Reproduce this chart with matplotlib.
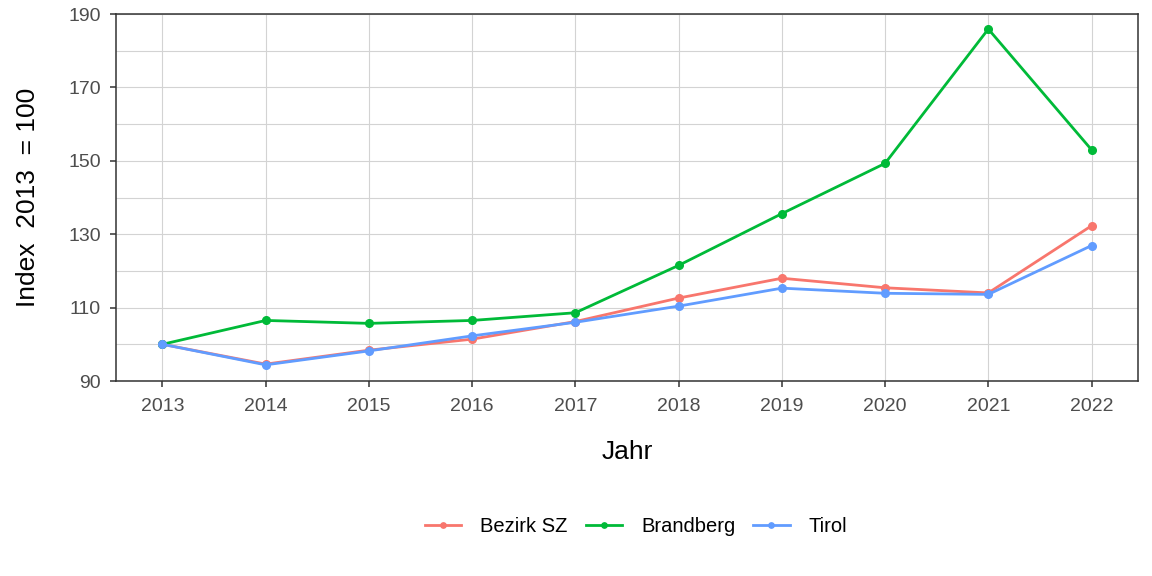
import matplotlib
import matplotlib.pyplot as plt
from matplotlib.ticker import FixedLocator

matplotlib.use('Agg')
plt.rcParams['font.family'] = ['Liberation Sans', 'DejaVu Sans']

years = [2013, 2014, 2015, 2016, 2017, 2018, 2019, 2020, 2021, 2022]
bezirk_sz = [100, 94.6, 98.4, 101.4, 106.2, 112.6, 118.0, 115.4, 114.0, 132.3]
brandberg = [100, 106.5, 105.7, 106.5, 108.6, 121.5, 135.6, 149.3, 185.9, 153.0]
tirol = [100, 94.4, 98.2, 102.3, 106.0, 110.4, 115.3, 113.9, 113.6, 126.9]
y_major = [90, 110, 130, 150, 170, 190]
y_minor = [100, 120, 140, 160, 180]

series = [('Bezirk SZ', bezirk_sz, '#F8766D'),
          ('Brandberg', brandberg, '#00BA38'),
          ('Tirol', tirol, '#619CFF')]

fig = plt.figure(figsize=(11.52, 5.76), dpi=100)
ax = fig.add_axes([116 / 1152, 1 - 381 / 576, (1138 - 116) / 1152, (381 - 14) / 576])

for name, vals, col in series:
    ax.plot(years, vals, color=col, lw=2.0, marker='o', ms=5.5, label=name)

ax.set_xlim(2012.55, 2022.45)
ax.set_ylim(90, 190)
ax.set_xticks(years)
ax.yaxis.set_major_locator(FixedLocator(y_major))
ax.yaxis.set_minor_locator(FixedLocator(y_minor))
ax.grid(True, which='both', color='#D3D3D3', lw=0.8)
ax.set_axisbelow(True)
for s in ax.spines.values():
    s.set_color('#333333')
    s.set_linewidth(1.1)
ax.tick_params(axis='both', which='major', labelsize=14, labelcolor='#4D4D4D',
               color='#333333', length=4, width=1.1)
ax.tick_params(axis='x', which='major', pad=8)
ax.tick_params(axis='y', which='major', pad=7)
ax.tick_params(axis='y', which='minor', length=0)

ax.set_xlabel('Jahr', fontsize=19, labelpad=18)
ax.set_ylabel('Index  2013  = 100', fontsize=19, labelpad=20)

fig.legend(loc='center', bbox_to_anchor=(636 / 1152, 1 - 527 / 576), ncol=3, frameon=False,
           fontsize=14.5, handlelength=1.8, columnspacing=0.9, handletextpad=0.95,
           markerscale=0.7)

fig.savefig('out.png', dpi=100)
